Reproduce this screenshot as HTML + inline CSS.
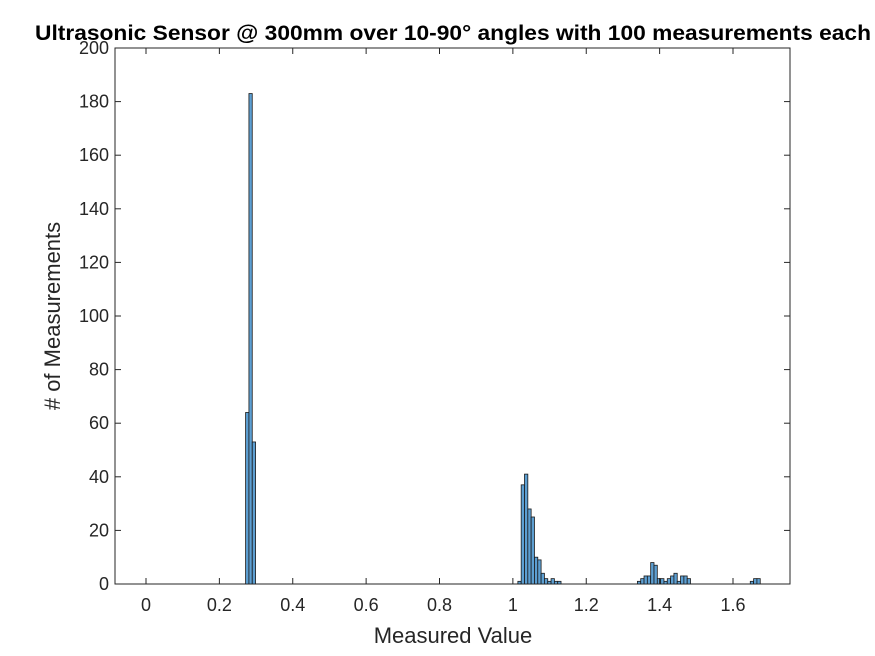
<!DOCTYPE html>
<html><head><meta charset="utf-8"><style>
body{margin:0;background:#fff;}
svg{display:block;font-family:"Liberation Sans",Arial,sans-serif;}
</style></head><body>
<svg id="chart" width="875" height="656" viewBox="0 0 875 656" xmlns="http://www.w3.org/2000/svg">
<rect x="0" y="0" width="875" height="656" fill="#fff"/>
<text x="453" y="40" text-anchor="middle" font-size="21" font-weight="bold" fill="#000" textLength="836" lengthAdjust="spacingAndGlyphs">Ultrasonic Sensor @ 300mm over 10-90° angles with 100 measurements each</text>
<rect x="115" y="48" width="675" height="536" fill="#fff" stroke="#262626" stroke-width="1"/>
<g id="bars"></g>
<g id="xt"></g>
<g id="yt"></g>
<text x="453" y="643" text-anchor="middle" font-size="22" fill="#262626">Measured Value</text>
<text transform="translate(60,316) rotate(-90)" text-anchor="middle" font-size="22" fill="#262626"># of Measurements</text>
</svg>
<script>
const binWidth = 0.00905;
const binCount = 185;
const nonZeroBins = [30,31,32,112,113,114,115,116,117,118,119,120,121,122,123,124,148,149,150,151,152,153,154,155,156,157,158,159,160,161,162,163,182,183,184];
const nonZeroCounts = [64,183,53,1,37,41,28,25,10,9,4,2,1,2,1,1,1,2,3,3,8,7,2,2,1,2,3,4,1,3,3,2,1,2,2];
const xTicks = [0,0.2,0.4,0.6,0.8,1,1.2,1.4,1.6];
const xTickLabels = ["0","0.2","0.4","0.6","0.8","1","1.2","1.4","1.6"];
const yTicks = [0,20,40,60,80,100,120,140,160,180,200];

const NS="http://www.w3.org/2000/svg";
const X0=115,X1=790,Y0=584,Y1=48;
const xs=v=>146+v*(733-146)/1.6;
const ys=v=>Y0-v*(Y0-Y1)/200;
const counts=new Array(binCount).fill(0);
nonZeroBins.forEach((b,i)=>counts[b]=nonZeroCounts[i]);
const bars=document.getElementById('bars');
counts.forEach((c,i)=>{
  const r=document.createElementNS(NS,'rect');
  const x=xs(i*binWidth), x2=xs((i+1)*binWidth);
  r.setAttribute('x',x);r.setAttribute('width',x2-x);
  r.setAttribute('y',ys(c));r.setAttribute('height',Y0-ys(c));
  r.setAttribute('fill','#5d9fd2');r.setAttribute('stroke','#1a1a1a');r.setAttribute('stroke-width','0.8');
  
  
  bars.appendChild(r);
});
const xt=document.getElementById('xt');
xTicks.forEach((v,i)=>{
  const x=xs(v);
  const l=document.createElementNS(NS,'line');
  l.setAttribute('x1',x);l.setAttribute('x2',x);l.setAttribute('y1',Y0);l.setAttribute('y2',Y0-6);
  l.setAttribute('stroke','#262626');
  
  
  xt.appendChild(l);
  const l2=l.cloneNode();l2.setAttribute('y1',Y1);l2.setAttribute('y2',Y1+6);xt.appendChild(l2);
  const t=document.createElementNS(NS,'text');
  t.setAttribute('x',x);t.setAttribute('y',Y0+27);t.setAttribute('text-anchor','middle');
  t.setAttribute('font-size','18');t.setAttribute('fill','#262626');
  
  
  t.textContent=xTickLabels[i];xt.appendChild(t);
});
const yt=document.getElementById('yt');
yTicks.forEach(v=>{
  const y=ys(v);
  const l=document.createElementNS(NS,'line');
  l.setAttribute('x1',X0);l.setAttribute('x2',X0+6);l.setAttribute('y1',y);l.setAttribute('y2',y);
  l.setAttribute('stroke','#262626');
  
  
  yt.appendChild(l);
  const l2=l.cloneNode();l2.setAttribute('x1',X1);l2.setAttribute('x2',X1-6);yt.appendChild(l2);
  const t=document.createElementNS(NS,'text');
  t.setAttribute('x',X0-6);t.setAttribute('y',y+6);t.setAttribute('text-anchor','end');
  t.setAttribute('font-size','18');t.setAttribute('fill','#262626');
  
  
  t.textContent=v;yt.appendChild(t);
});
</script>
</body></html>
